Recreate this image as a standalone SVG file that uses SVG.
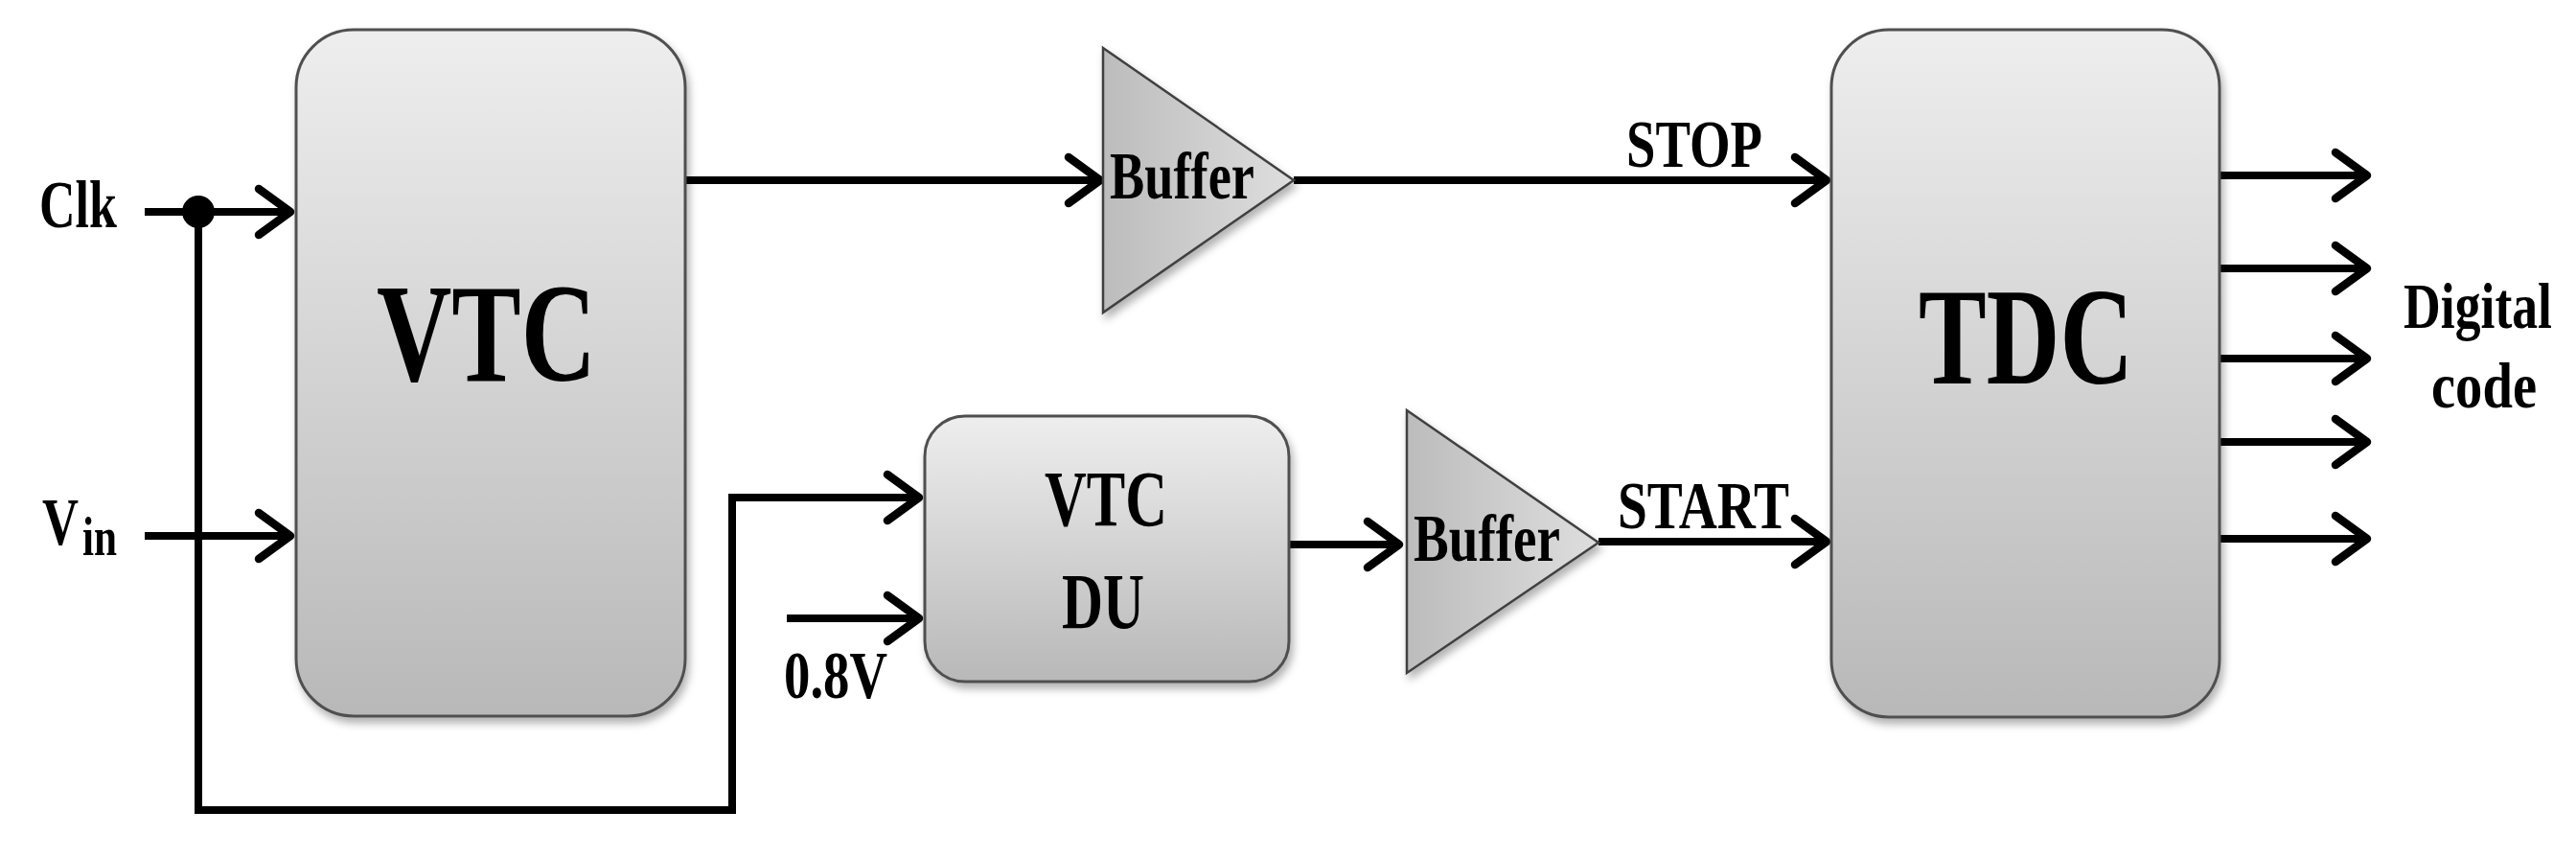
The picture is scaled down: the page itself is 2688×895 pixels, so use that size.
<svg xmlns="http://www.w3.org/2000/svg" width="2688" height="895" viewBox="0 0 2688 895">
<style>
.lbl{font-family:"Liberation Serif","DejaVu Serif","Times New Roman",serif;font-weight:bold;fill:#000;}
.box{stroke:#505050;stroke-width:3;fill:url(#gBox);filter:url(#sh);}
.tri{stroke:#404040;stroke-width:2.5;fill:url(#gTri);filter:url(#sh);}
.wire{fill:none;stroke:#000;stroke-width:8;stroke-linejoin:miter;}
.arr{marker-end:url(#arr);}
</style>
<defs>
<linearGradient id="gBox" x1="0" y1="0" x2="0" y2="1">
<stop offset="0" stop-color="#eeeeee"/>
<stop offset="1" stop-color="#b8b8b8"/>
</linearGradient>
<linearGradient id="gTri" x1="0" y1="0" x2="1" y2="0">
<stop offset="0" stop-color="#bcbcbc"/>
<stop offset="1" stop-color="#dedede"/>
</linearGradient>
<filter id="sh" x="-10%" y="-10%" width="125%" height="125%">
<feDropShadow dx="3" dy="6" stdDeviation="4" flood-color="#000" flood-opacity="0.3"/>
</filter>
<marker id="arr" markerUnits="userSpaceOnUse" markerWidth="50" markerHeight="64" viewBox="-42 -32 50 64" refX="0" refY="0" orient="auto">
<path d="M-33,-24 L0,0 L-33,24" fill="none" stroke="#000" stroke-width="8.5" stroke-linejoin="round" stroke-linecap="round"/>
</marker>
</defs>

<g id="connectors">
<path class="wire arr" d="M151,221 H303"/>
<path class="wire arr" d="M151,559 H303"/>
<path class="wire arr" d="M207,221 V845 H764 V519 H959"/>
<circle cx="207" cy="221" r="17" fill="#000"/>
<path class="wire arr" d="M716,188 H1148"/>
<path class="wire arr" d="M1350,188 H1906"/>
<path class="wire arr" d="M821,645 H959"/>
<path class="wire arr" d="M1345,568 H1460"/>
<path class="wire arr" d="M1668,565 H1906"/>
<path class="wire arr" d="M2316,183 H2470"/>
<path class="wire arr" d="M2316,280 H2470"/>
<path class="wire arr" d="M2316,374 H2470"/>
<path class="wire arr" d="M2316,461 H2470"/>
<path class="wire arr" d="M2316,562 H2470"/>
</g>

<g id="vtc">
<rect class="box" x="309" y="31" width="406" height="716" rx="60" ry="60"/>
<text class="lbl" x="393" y="397" font-size="147" textLength="229" lengthAdjust="spacingAndGlyphs">VTC</text>
</g>

<g id="buffer1">
<polygon class="tri" points="1151,50 1350,188 1151,326"/>
<text class="lbl" x="1158" y="207" font-size="70" textLength="151" lengthAdjust="spacingAndGlyphs">Buffer</text>
</g>

<g id="vtc-du">
<rect class="box" x="965" y="434" width="380" height="277" rx="42" ry="42"/>
<text class="lbl" x="1090" y="548" font-size="82" textLength="128" lengthAdjust="spacingAndGlyphs">VTC</text>
<text class="lbl" x="1108" y="655" font-size="82" textLength="86" lengthAdjust="spacingAndGlyphs">DU</text>
</g>

<g id="buffer2">
<polygon class="tri" points="1468,428 1668,566 1468,702"/>
<text class="lbl" x="1475" y="585" font-size="70" textLength="153" lengthAdjust="spacingAndGlyphs">Buffer</text>
</g>

<g id="tdc">
<rect class="box" x="1911" y="31" width="405" height="717" rx="60" ry="60"/>
<text class="lbl" x="2002" y="400" font-size="144" textLength="224" lengthAdjust="spacingAndGlyphs">TDC</text>
</g>

<g id="labels">
<text class="lbl" x="41" y="237" font-size="70" textLength="81" lengthAdjust="spacingAndGlyphs">Clk</text>
<text class="lbl" x="44" y="568" font-size="70" textLength="38" lengthAdjust="spacingAndGlyphs">V</text>
<text class="lbl" x="86" y="579" font-size="56" textLength="36" lengthAdjust="spacingAndGlyphs">in</text>
<text class="lbl" x="818" y="728" font-size="70" textLength="108" lengthAdjust="spacingAndGlyphs">0.8V</text>
<text class="lbl" x="1697" y="174" font-size="70" textLength="142" lengthAdjust="spacingAndGlyphs">STOP</text>
<text class="lbl" x="1688" y="551" font-size="70" textLength="179" lengthAdjust="spacingAndGlyphs">START</text>
<text class="lbl" x="2508" y="342" font-size="68" textLength="155" lengthAdjust="spacingAndGlyphs">Digital</text>
<text class="lbl" x="2537" y="425" font-size="68" textLength="110" lengthAdjust="spacingAndGlyphs">code</text>
</g>
</svg>
